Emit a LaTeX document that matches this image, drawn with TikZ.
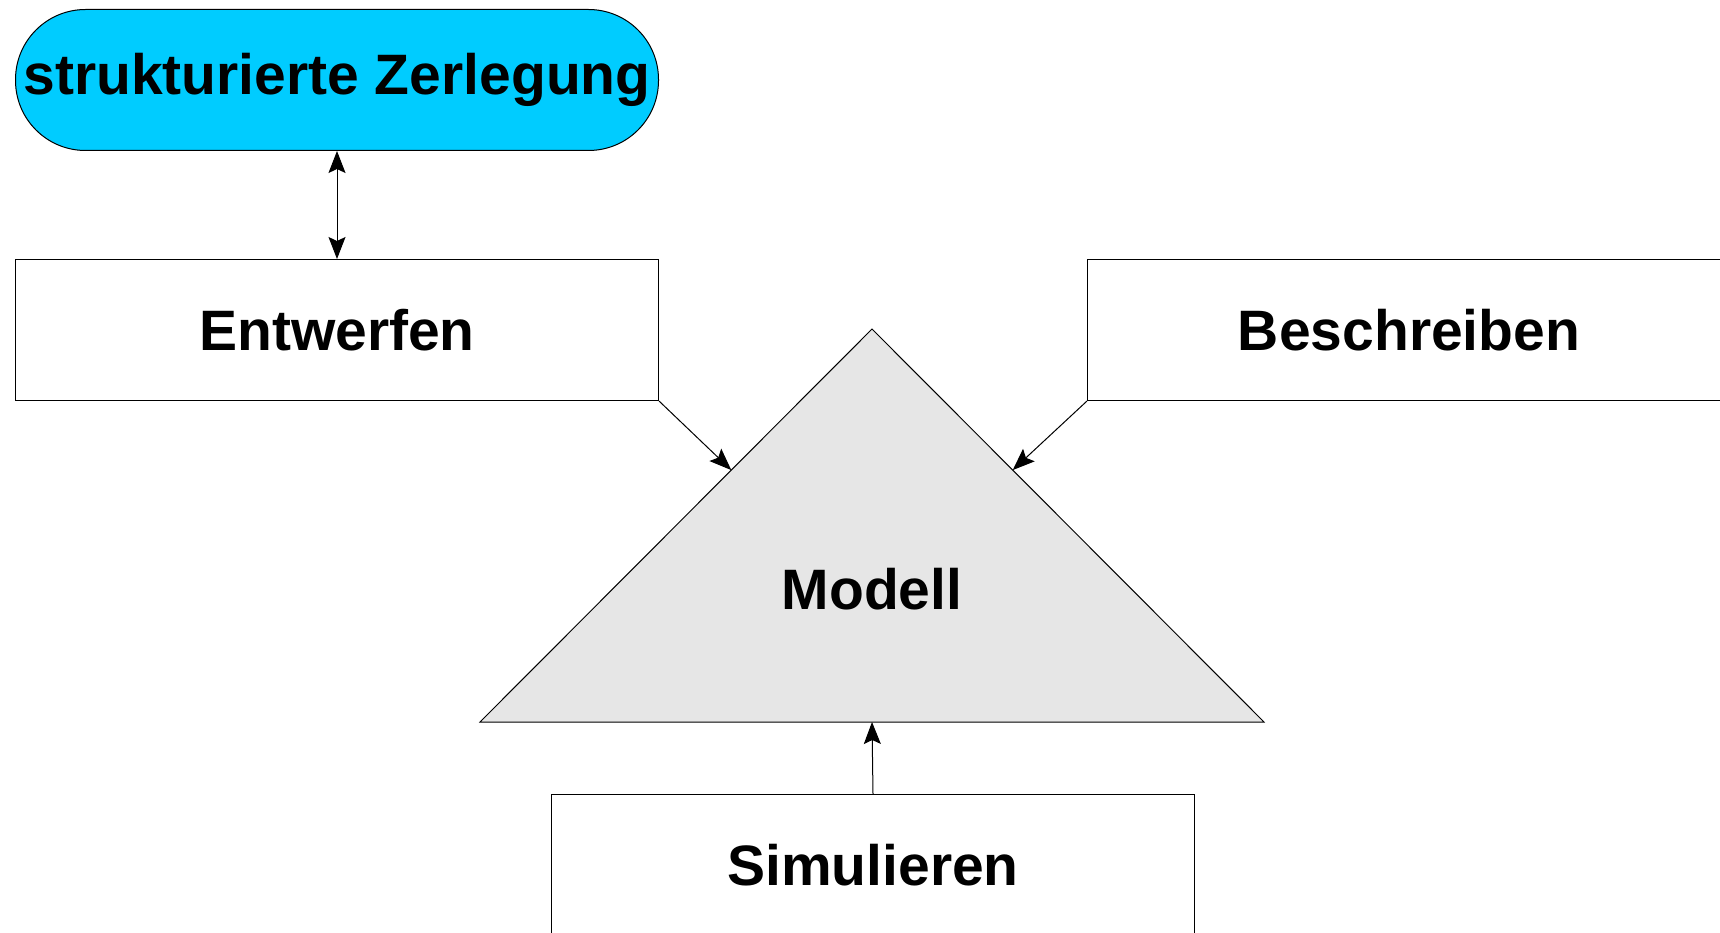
\documentclass[tikz,border=0pt]{standalone}
\usepackage{fontspec}
\setmainfont{Liberation Sans}
\usetikzlibrary{arrows.meta,calc}
\definecolor{pillcyan}{RGB}{0,204,255}
\definecolor{trigray}{RGB}{230,230,230}
\begin{document}
\begin{tikzpicture}[x=1pt,y=-1pt,
  >={Stealth[length=22pt,width=17pt,inset=4pt]},
  lbl/.style={font=\fontsize{57}{60}\selectfont\bfseries},
  box/.style={lbl,draw=black,line width=1pt,fill=white,minimum width=643pt,minimum height=141pt,inner sep=0pt,anchor=north west},
  pill/.style={box,fill=pillcyan,rounded corners=70pt},
  conn/.style={line width=1pt,->},
  dconn/.style={line width=1pt,<->},
]
\useasboundingbox (0,0) rectangle (1720,933);
% triangle
\coordinate (apex) at (872,329);
\coordinate (bl) at (480,722);
\coordinate (br) at (1264,722);
\draw[line width=1pt,fill=trigray] (apex) -- (br) -- (bl) -- cycle;
\node[lbl] (modell) at (872,589) {Modell};
\coordinate (tipL) at ($(apex)!0.359!(bl)$);
\coordinate (tipR) at ($(apex)!0.359!(br)$);
\coordinate (baseM) at ($(bl)!0.5!(br)$);
% nodes
\node[pill] (sz) at (15,9) {strukturierte Zerlegung};
\node[box] (ent) at (15,259) {Entwerfen};
\node[box] (bes) at (1087,259) {Beschreiben};
\node[box] (sim) at (551,794) {Simulieren};
% connectors
\draw[dconn] (sz.south) -- (ent.north);
\draw[conn] (ent.south east) -- (tipL);
\draw[conn] (bes.south west) -- (tipR);
\draw[conn] (sim.north) -- (baseM);
\end{tikzpicture}
\end{document}
